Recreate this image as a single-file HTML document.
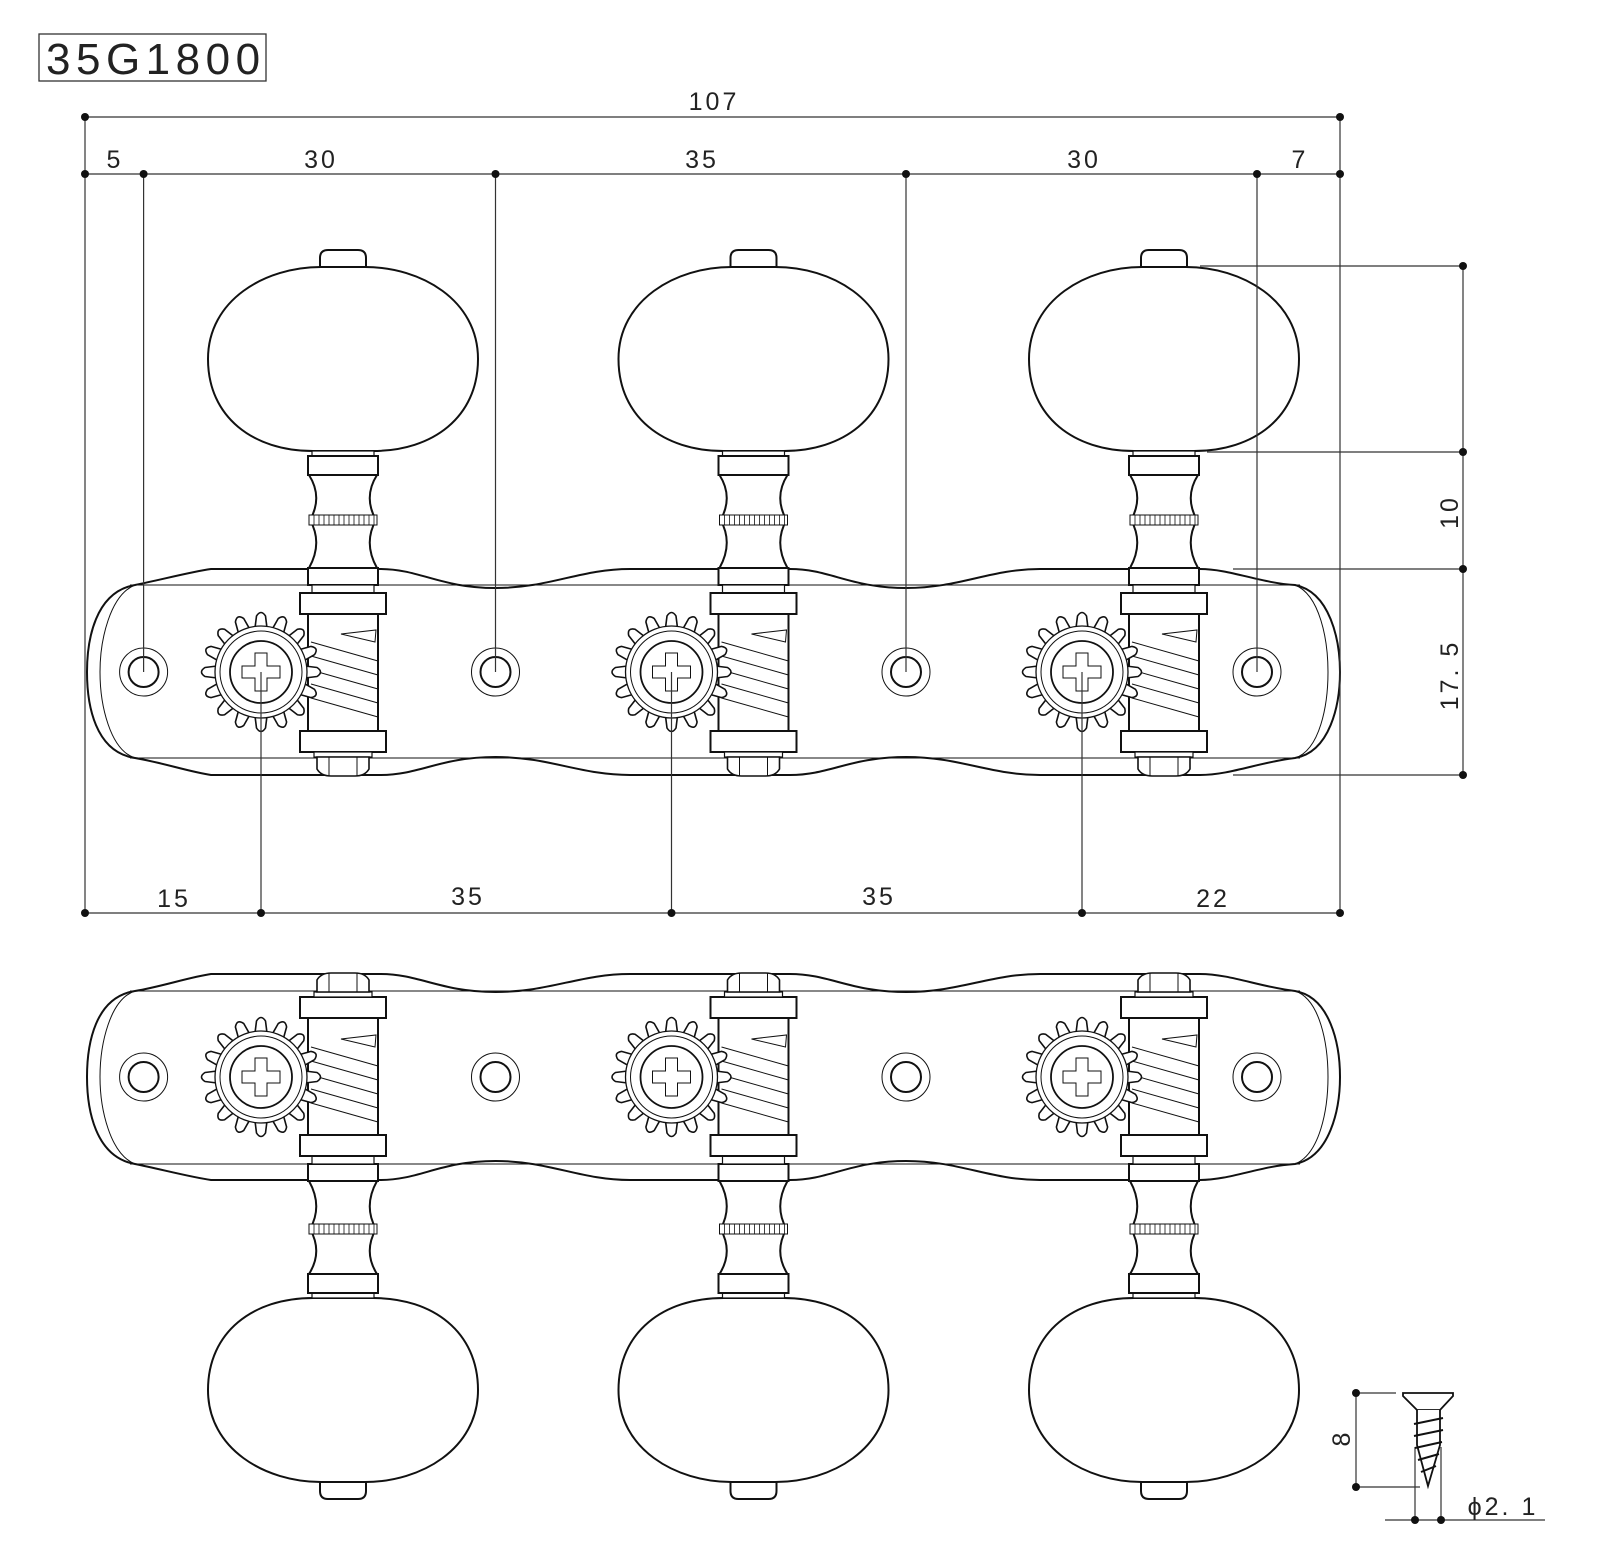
<!DOCTYPE html>
<html><head><meta charset="utf-8"><style>
html,body{margin:0;padding:0;background:#fff;}
svg{display:block;}
text{font-family:"Liberation Sans",sans-serif;fill:#222;}
</style></head><body>
<svg width="1600" height="1564" viewBox="0 0 1600 1564" xmlns="http://www.w3.org/2000/svg">
<defs>
<g id="tooth"><path d="M-6,-44 L-4.5,-56 Q0,-63 4.5,-56 L6,-44 Z" fill="#fff" stroke="#111" stroke-width="1.6" stroke-linejoin="round"/></g>
<g id="gear">
  <use href="#tooth"/><use href="#tooth" transform="rotate(22.5)"/><use href="#tooth" transform="rotate(45)"/><use href="#tooth" transform="rotate(67.5)"/>
  <use href="#tooth" transform="rotate(90)"/><use href="#tooth" transform="rotate(112.5)"/><use href="#tooth" transform="rotate(135)"/><use href="#tooth" transform="rotate(157.5)"/>
  <use href="#tooth" transform="rotate(180)"/><use href="#tooth" transform="rotate(202.5)"/><use href="#tooth" transform="rotate(225)"/><use href="#tooth" transform="rotate(247.5)"/>
  <use href="#tooth" transform="rotate(270)"/><use href="#tooth" transform="rotate(292.5)"/><use href="#tooth" transform="rotate(315)"/><use href="#tooth" transform="rotate(337.5)"/>
  <circle r="46" fill="#fff" stroke="#111" stroke-width="1.3"/>
  <circle r="41" fill="none" stroke="#111" stroke-width="1"/>
  <circle r="31" fill="none" stroke="#111" stroke-width="1.8"/>
  <path d="M-6,-19 H6 V-6 H19 V6 H6 V19 H-6 V6 H-19 V-6 H-6 Z" fill="none" stroke="#111" stroke-width="1"/>
</g>
<g id="tuner" fill="#fff" stroke="#111" stroke-width="2">
  <path d="M59,-405 V-414 Q59,-422 67,-422 H97 Q105,-422 105,-414 V-405"/>
  <path d="M60,-405 H104 C160,-405 217,-372 217,-313 C217,-255 172,-221 112,-221 H52 C-8,-221 -53,-255 -53,-313 C-53,-372 4,-405 60,-405 Z"/>
  <rect x="51" y="-221" width="62" height="6" stroke-width="1.2"/>
  <rect x="47" y="-216" width="70" height="19"/>
  <path d="M48,-197 Q62,-175 49,-152 Q62,-129 48,-104 L116,-104 Q102,-129 115,-152 Q102,-175 116,-197 Z"/>
  <rect x="48" y="-157" width="68" height="10" stroke-width="1"/>
  <path d="M53,-157v10M58,-157v10M63,-157v10M68,-157v10M73,-157v10M78,-157v10M83,-157v10M88,-157v10M93,-157v10M98,-157v10M103,-157v10M108,-157v10M113,-157v10" stroke-width="0.8"/>
  <rect x="47" y="-104" width="70" height="17"/>
  <rect x="51" y="-87" width="62" height="8" stroke-width="1.2"/>
  <rect x="39" y="-79" width="86" height="21"/>
  <rect x="47" y="-58" width="70" height="117"/>
  <rect x="39" y="59" width="86" height="21"/>
  <rect x="53" y="80" width="58" height="5" stroke-width="1.2"/>
  <path d="M56,85 V97 Q60,104 70,104 H94 Q104,104 108,97 V85 Z" stroke-width="1.6"/>
  <path d="M68,85V104M96,85V104" stroke-width="1"/>
</g>
<g id="worm" fill="none" stroke="#111" stroke-width="1">
  <path d="M50,-30 L117,-11 M50,-16 L117,3 M50,-2 L117,17 M50,12 L117,31 M50,26 L117,45"/>
  <path d="M80,-38 L115,-42 L114,-30 Z"/>
</g>
<path id="plate" d="M135,585 C160,580 190,572 211,569 L380,569 C420,569 440,588 495.5,588 C550,588 580,569 630,569 L790,569 C830,569 850,588 906,588 C960,588 990,569 1040,569 L1200,569 C1230,569 1260,583 1295,585 C1330,592 1340,640 1340,672 C1340,705 1330,752 1295,758 C1260,762 1230,775 1200,775 L1040,775 C990,775 960,757 906,757 C850,757 830,775 790,775 L630,775 C580,775 550,757 495.5,757 C440,757 420,775 380,775 L211,775 C190,772 160,762 135,758 C95,752 87,705 87,672 C87,640 95,592 135,585 Z"/>
<g id="platefull">
  <use href="#plate" fill="#fff" stroke="#111" stroke-width="2"/>
  <path d="M130,585 H1300 M130,758 H1300 M135,585 C110,595 100,640 100,672 C100,705 110,750 135,758 M1295,585 C1320,595 1328,640 1328,672 C1328,705 1320,750 1295,758" fill="none" stroke="#111" stroke-width="1"/>
  <g fill="none" stroke="#111">
    <circle cx="143.6" cy="672" r="24" stroke-width="1"/><circle cx="143.6" cy="672" r="15" stroke-width="2"/>
    <circle cx="495.5" cy="672" r="24" stroke-width="1"/><circle cx="495.5" cy="672" r="15" stroke-width="2"/>
    <circle cx="906" cy="672" r="24" stroke-width="1"/><circle cx="906" cy="672" r="15" stroke-width="2"/>
    <circle cx="1257" cy="672" r="24" stroke-width="1"/><circle cx="1257" cy="672" r="15" stroke-width="2"/>
  </g>
</g>
</defs>

<rect x="39" y="34" width="227" height="47" fill="none" stroke="#333" stroke-width="1.3"/>
<text x="46" y="74" font-size="44" letter-spacing="5.5">35G1800</text>

<use href="#platefull"/>
<g transform="translate(261,672)"><use href="#tuner"/><use href="#worm"/><use href="#gear"/></g>
<g transform="translate(671.5,672)"><use href="#tuner"/><use href="#worm"/><use href="#gear"/></g>
<g transform="translate(1082,672)"><use href="#tuner"/><use href="#worm"/><use href="#gear"/></g>

<g transform="matrix(1,0,0,-1,0,1749)"><use href="#platefull"/></g>
<g transform="translate(261,1077)"><g transform="scale(1,-1)"><use href="#tuner"/></g><use href="#worm"/><use href="#gear"/></g>
<g transform="translate(671.5,1077)"><g transform="scale(1,-1)"><use href="#tuner"/></g><use href="#worm"/><use href="#gear"/></g>
<g transform="translate(1082,1077)"><g transform="scale(1,-1)"><use href="#tuner"/></g><use href="#worm"/><use href="#gear"/></g>

<g stroke="#333" stroke-width="1.2" fill="none">
  <path d="M85,117 H1340 M85,174 H1340 M85,913 H1340"/>
  <path d="M85,117 V913 M1340,117 V913"/>
  <path d="M143.6,174 V672 M495.5,174 V672 M906,174 V672 M1257,174 V672"/>
  <path d="M261,672 V913 M671.5,672 V913 M1082,672 V913"/>
  <path d="M1463,266 V775 M1200,266 H1463 M1207,452 H1463 M1233,569 H1463 M1233,775 H1463"/>
  <path d="M1356,1393 V1487 M1356,1393 H1396 M1356,1487 H1420 M1415,1447 V1520 M1441,1447 V1520 M1385,1520 H1545"/>
</g>
<g fill="#111">
  <circle cx="85" cy="117" r="4"/><circle cx="1340" cy="117" r="4"/>
  <circle cx="85" cy="174" r="4"/><circle cx="143.6" cy="174" r="4"/><circle cx="495.5" cy="174" r="4"/><circle cx="906" cy="174" r="4"/><circle cx="1257" cy="174" r="4"/><circle cx="1340" cy="174" r="4"/>
  <circle cx="85" cy="913" r="4"/><circle cx="261" cy="913" r="4"/><circle cx="671.5" cy="913" r="4"/><circle cx="1082" cy="913" r="4"/><circle cx="1340" cy="913" r="4"/>
  <circle cx="1463" cy="266" r="4"/><circle cx="1463" cy="452" r="4"/><circle cx="1463" cy="569" r="4"/><circle cx="1463" cy="775" r="4"/>
  <circle cx="1356" cy="1393" r="4"/><circle cx="1356" cy="1487" r="4"/><circle cx="1415" cy="1520" r="4"/><circle cx="1441" cy="1520" r="4"/>
</g>
<g font-size="25" letter-spacing="3" text-anchor="middle">
  <text x="714" y="110">107</text>
  <text x="115" y="168">5</text>
  <text x="321" y="168">30</text>
  <text x="702" y="168">35</text>
  <text x="1084" y="168">30</text>
  <text x="1300" y="168">7</text>
  <text x="174" y="907">15</text>
  <text x="468" y="905">35</text>
  <text x="879" y="905">35</text>
  <text x="1213" y="907">22</text>
  <text transform="translate(1458,512) rotate(-90)">10</text>
  <text transform="translate(1458,675) rotate(-90)">17. 5</text>
  <text transform="translate(1350,1438) rotate(-90)">8</text>
  <text x="1503" y="1515">ϕ2. 1</text>
</g>

<g fill="#fff" stroke="#111" stroke-width="1.8">
  <path d="M1403,1393 H1453 V1396 L1440,1410 H1417 L1403,1396 Z"/>
  <path d="M1417,1410 V1445 L1428,1486 L1440,1445 V1410"/>
  <path d="M1414,1424 L1443,1418 M1414,1436 L1443,1430 M1415,1448 L1442,1442 M1418,1460 L1439,1454 M1421,1472 L1436,1466" fill="none" stroke-width="2"/>
</g>
</svg>
</body></html>
